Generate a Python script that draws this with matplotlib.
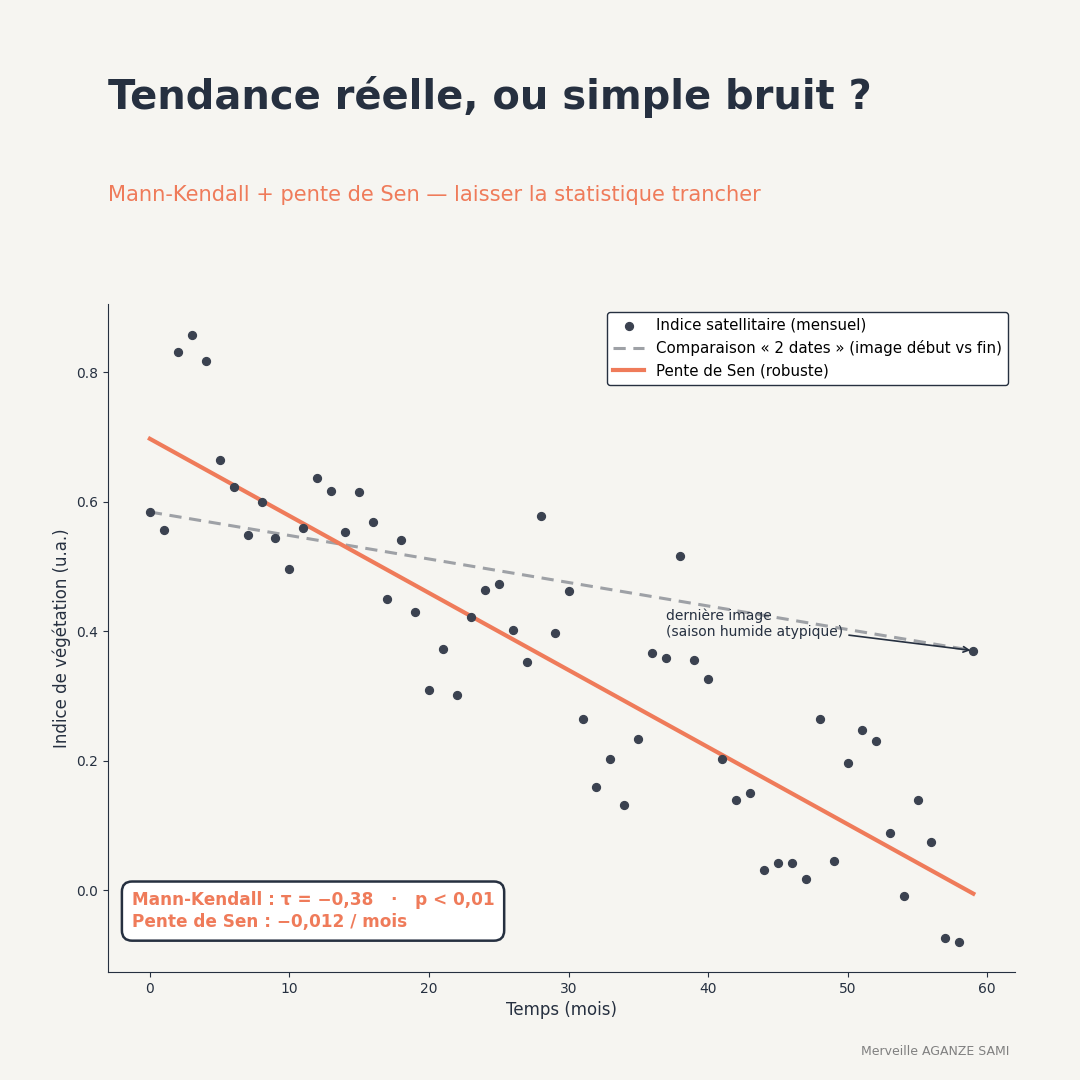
import numpy as np
import matplotlib.pyplot as plt

plt.rcParams["font.family"] = ["DejaVu Sans"]

# --- donnees ---
mois = np.arange(60)
indice = [0.584, 0.556, 0.831, 0.857, 0.817, 0.664, 0.623, 0.549, 0.600, 0.544,
          0.496, 0.560, 0.637, 0.617, 0.553, 0.615, 0.569, 0.450, 0.541, 0.430,
          0.310, 0.373, 0.301, 0.422, 0.464, 0.473, 0.402, 0.353, 0.578, 0.398,
          0.462, 0.264, 0.159, 0.203, 0.131, 0.233, 0.367, 0.359, 0.516, 0.355,
          0.327, 0.203, 0.140, 0.151, 0.032, 0.042, 0.043, 0.017, 0.264, 0.045,
          0.196, 0.248, 0.231, 0.089, -0.009, 0.139, 0.074, -0.074, -0.080, 0.370]
sen_pente = -0.0119
sen_origine = 0.697

BG = "#f6f5f1"
DARK = "#263040"
ORANGE = "#ef7b5a"
GRIS = "#9ea1a6"

fig = plt.figure(figsize=(10.8, 10.8), dpi=100, facecolor=BG)
ax = fig.add_axes([0.1, 0.1, 0.84, 0.6185])
ax.set_facecolor(BG)

ax.scatter(mois, indice, s=32, color="#3b4250", zorder=3,
           label="Indice satellitaire (mensuel)")
ax.plot([mois[0], mois[-1]], [indice[0], indice[-1]], ls="--", lw=2.2,
        color=GRIS, dashes=(4, 2.5), zorder=2,
        label="Comparaison « 2 dates » (image début vs fin)")
x_sen = np.array([mois[0], mois[-1]])
ax.plot(x_sen, sen_origine + sen_pente * x_sen, lw=3, color=ORANGE, zorder=2,
        label="Pente de Sen (robuste)")

ax.annotate("dernière image\n(saison humide atypique)",
            xy=(mois[-1], indice[-1]), xytext=(37, 0.412),
            ha="left", va="center", fontsize=10, color=DARK,
            arrowprops=dict(arrowstyle="->", color=DARK, lw=1.2))

ax.text(-1.3, -0.032, "Mann-Kendall : τ = −0,38   ·   p < 0,01\nPente de Sen : −0,012 / mois",
        fontsize=12.2, fontweight="bold", color=ORANGE, va="center", ha="left",
        linespacing=1.25,
        bbox=dict(boxstyle="round,pad=0.58,rounding_size=0.6", fc="white", ec=DARK, lw=1.8))

leg = ax.legend(loc="upper right", fontsize=10.85, frameon=True, fancybox=True,
                edgecolor=DARK, framealpha=1)
leg.get_frame().set_linewidth(1.0)

ax.set_xlim(-3, 62)
ax.set_ylim(-0.126, 0.905)
ax.set_xticks([0, 10, 20, 30, 40, 50, 60])
ax.set_yticks([0.0, 0.2, 0.4, 0.6, 0.8])
ax.tick_params(labelsize=10, colors=DARK)
ax.set_xlabel("Temps (mois)", fontsize=12, color=DARK)
ax.set_ylabel("Indice de végétation (u.a.)", fontsize=12, color=DARK)
ax.spines["top"].set_visible(False)
ax.spines["right"].set_visible(False)
ax.spines["left"].set_color(DARK)
ax.spines["bottom"].set_color(DARK)

fig.text(0.1, 0.91, "Tendance réelle, ou simple bruit ?", fontsize=28.8,
         fontweight="bold", color=DARK, va="center", ha="left")
fig.text(0.1, 0.819, "Mann-Kendall + pente de Sen — laisser la statistique trancher",
         fontsize=15.1, color=ORANGE, va="center", ha="left")
fig.text(0.935, 0.026, "Merveille AGANZE SAMI", fontsize=9, color="#808080",
         ha="right", va="center")

fig.savefig("out.png", dpi=100, facecolor=BG)
